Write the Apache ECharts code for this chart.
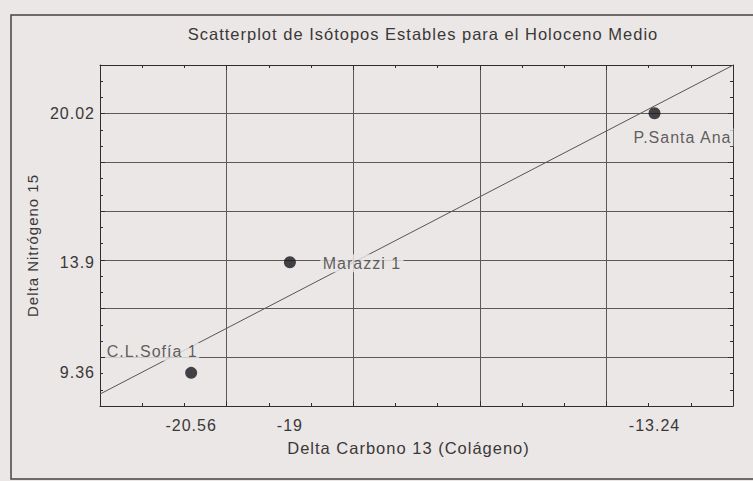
<!DOCTYPE html>
<html>
<head>
<meta charset="utf-8">
<script src="https://cdn.jsdelivr.net/npm/echarts@6/dist/echarts.min.js"></script>
<style>
html,body{margin:0;padding:0;background:#ebe7e6;}
#chart{width:753px;height:481px;}
#chart svg text{letter-spacing:1px;}
</style>
</head>
<body>
<div id="chart"></div>
<script>
// ---- data ----
const sites = ['C.L.Sofía 1', 'Marazzi 1', 'P.Santa Ana'];
const carbon13 = [-20.56, -19, -13.24];
const nitrogen15 = [9.36, 13.9, 20.02];
const xTickValues = [-20.56, -19, -13.24];
const yTickValues = [9.36, 13.9, 20.02];
const trendX = [-22, -12];
const trendY = [8.49, 21.99];

const titleText = 'Scatterplot de Isótopos Estables para el Holoceno Medio';
const xName = 'Delta Carbono 13 (Colágeno)';
const yName = 'Delta Nitrógeno 15';

// label placement (style only)
const labelOffsets = [[-39, -21], [72, 1], [28, 24]];

const BG = '#ebe7e6';
const TXT = '#3a3838';
const FONT = 'Liberation Sans';

const chart = echarts.init(document.getElementById('chart'), null, { renderer: 'svg' });

const axisCommon = {
  type: 'value',
  axisLine: { show: true, lineStyle: { color: '#2e2e2e', width: 1 } },
  axisTick: { show: true, inside: true, length: 5, lineStyle: { color: '#2e2e2e' } },
  minorTick: { show: true, splitNumber: 3, length: 3, lineStyle: { color: '#2e2e2e' } },
  splitLine: { show: false },
  minorSplitLine: { show: false }
};

const option = {
  backgroundColor: BG,
  animation: false,
  textStyle: { fontFamily: FONT },
  title: {
    text: titleText,
    left: 418,
    top: 20,
    textAlign: 'center',
    textStyle: { fontFamily: FONT, fontSize: 16.5, fontWeight: 'normal', color: TXT }
  },
  graphic: [{
    type: 'rect',
    shape: { x: 11, y: 15, width: 760, height: 464 },
    style: { fill: null, stroke: '#444', lineWidth: 1.5 },
    silent: true
  }],
  grid: { left: 100, right: 20, top: 65, bottom: 75, show: false },
  xAxis: [
    Object.assign({}, axisCommon, {
      min: -22, max: -12, interval: 2,
      position: 'bottom',
      name: xName,
      nameLocation: 'middle',
      nameGap: 33,
      nameTextStyle: { fontFamily: FONT, fontSize: 16.5, color: TXT, padding: [0, 16, 0, 0] },
      splitLine: { show: true, lineStyle: { color: '#5a5a5a', width: 1 } },
      axisLabel: {
        show: true,
        customValues: xTickValues,
        margin: 11,
        fontFamily: FONT, fontSize: 16, color: TXT,
        formatter: v => String(v)
      }
    }),
    Object.assign({}, axisCommon, {
      min: -22, max: -12, interval: 2,
      position: 'top',
      axisLabel: { show: false }
    })
  ],
  yAxis: [
    Object.assign({}, axisCommon, {
      min: 8, max: 22, interval: 2,
      position: 'left',
      name: yName,
      nameLocation: 'middle',
      nameGap: 60,
      nameRotate: 90,
      nameTextStyle: { fontFamily: FONT, fontSize: 15, color: TXT, padding: [0, 20, 0, 0] },
      splitLine: { show: true, lineStyle: { color: '#5a5a5a', width: 1 } },
      axisLabel: {
        show: true,
        customValues: yTickValues,
        margin: 5,
        fontFamily: FONT, fontSize: 16, color: TXT,
        formatter: v => String(v)
      }
    }),
    Object.assign({}, axisCommon, {
      min: 8, max: 22, interval: 2,
      position: 'right',
      axisLabel: { show: false }
    })
  ],
  series: [
    {
      type: 'line',
      xAxisIndex: 0, yAxisIndex: 0,
      data: trendX.map((x, i) => [x, trendY[i]]),
      symbol: 'none',
      lineStyle: { color: '#555', width: 1 },
      z: 2,
      silent: true
    },
    {
      type: 'scatter',
      xAxisIndex: 0, yAxisIndex: 0,
      symbol: 'circle',
      symbolSize: 12,
      itemStyle: { color: '#17171c' },
      z: 4,
      data: carbon13.map((x, i) => ({
        value: [x, nitrogen15[i]],
        name: sites[i],
        label: {
          show: true,
          position: 'inside',
          offset: labelOffsets[i],
          formatter: sites[i],
          fontFamily: FONT, fontSize: 16, color: TXT,
          backgroundColor: BG,
          padding: [1, 7]
        }
      }))
    }
  ]
};

chart.setOption(option);
</script>
</body>
</html>
